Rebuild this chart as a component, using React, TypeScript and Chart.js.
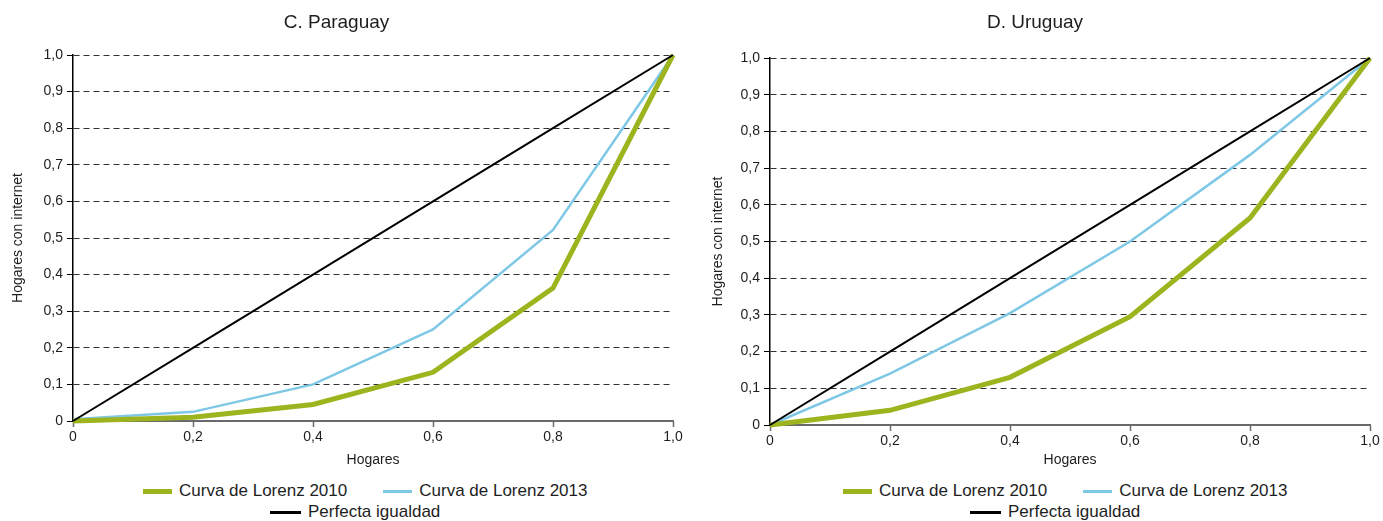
import React, { useEffect, useRef } from 'react';
import { Chart, registerables } from 'chart.js';

Chart.register(...registerables);

// ---- Data ----
const householdShares = [0, 0.2, 0.4, 0.6, 0.8, 1.0];
const xTickLabels = ['0', '0,2', '0,4', '0,6', '0,8', '1,0'];
const yTickLabels = ['0', '0,1', '0,2', '0,3', '0,4', '0,5', '0,6', '0,7', '0,8', '0,9', '1,0'];

const paraguay2010 = [0, 0.01, 0.045, 0.133, 0.363, 1.0];
const paraguay2013 = [0.005, 0.025, 0.1, 0.25, 0.522, 1.0];
const uruguay2010 = [0, 0.04, 0.13, 0.295, 0.564, 1.0];
const uruguay2013 = [0, 0.14, 0.305, 0.5, 0.736, 1.0];
const perfectEquality = [0, 0.2, 0.4, 0.6, 0.8, 1.0];

const seriesNames = ['Curva de Lorenz 2010', 'Curva de Lorenz 2013', 'Perfecta igualdad'];
const panelTitles = ['C. Paraguay', 'D. Uruguay'];
const xAxisTitle = 'Hogares';
const yAxisTitle = 'Hogares con internet';

const GREEN = '#9db41f';
const BLUE = '#7ec8e6';
const BLACK = '#000000';
const FONT = "'Liberation Sans', Arial, Helvetica, sans-serif";
const TEXT = '#1e1e1e';

const CANVAS_W = 690;
const CANVAS_H = 480;

type PanelProps = {
  title: string;
  values2010: number[];
  values2013: number[];
  plotTop: number;
  plotBottom: number;
  yAxisWidth: number;
  padRight: number;
};

const toPoints = (ys: number[]) => householdShares.map((x, i) => ({ x, y: ys[i] }));

function Panel({ title, values2010, values2013, plotTop, plotBottom, yAxisWidth, padRight }: PanelProps) {
  const ref = useRef<HTMLCanvasElement | null>(null);

  useEffect(() => {
    if (!ref.current) return;
    const titleFont = 19;
    const titleLine = titleFont * 1.2;
    const titlePadTop = 11;
    const chart = new Chart(ref.current, {
      type: 'line',
      data: {
        datasets: [
          {
            label: seriesNames[2],
            data: toPoints(perfectEquality),
            borderColor: BLACK,
            borderWidth: 2,
            order: 0,
            clip: false as any,
          },
          {
            label: seriesNames[0],
            data: toPoints(values2010),
            borderColor: GREEN,
            borderWidth: 5,
            order: 1,
            clip: false as any,
          },
          {
            label: seriesNames[1],
            data: toPoints(values2013),
            borderColor: BLUE,
            borderWidth: 2.5,
            order: 2,
            clip: false as any,
          },
        ],
      },
      options: {
        responsive: false,
        animation: false,
        layout: { padding: { left: 0, right: padRight, top: 0, bottom: 0 } },
        elements: {
          point: { radius: 0, hoverRadius: 0 },
          line: { tension: 0, borderCapStyle: 'butt', borderJoinStyle: 'miter', fill: false },
        },
        plugins: {
          legend: { display: false },
          tooltip: { enabled: false },
          title: {
            display: true,
            text: title,
            color: TEXT,
            font: { family: FONT, size: titleFont, weight: 'normal' },
            padding: { top: titlePadTop, bottom: plotTop - titlePadTop - titleLine },
          },
        },
        scales: {
          x: {
            type: 'linear',
            min: 0,
            max: 1,
            ticks: {
              stepSize: 0.2,
              autoSkip: false,
              maxRotation: 0,
              padding: 2,
              color: TEXT,
              font: { family: FONT, size: 14 },
              callback: (v: any) => xTickLabels[Math.round(Number(v) * 5)],
            },
            grid: {
              drawOnChartArea: false,
              drawTicks: true,
              tickLength: 6,
              tickColor: '#6a6a6a',
              tickWidth: 1.5,
            },
            border: { color: '#6a6a6a', width: 2 },
            title: {
              display: true,
              text: xAxisTitle,
              color: TEXT,
              font: { family: FONT, size: 14 },
              padding: { top: 0, bottom: 11 },
            },
            afterFit: (s: any) => {
              s.height = CANVAS_H - plotBottom;
            },
          },
          y: {
            type: 'linear',
            min: 0,
            max: 1,
            ticks: {
              stepSize: 0.1,
              autoSkip: false,
              padding: 4,
              color: TEXT,
              font: { family: FONT, size: 14 },
              callback: (v: any) => yTickLabels[Math.round(Number(v) * 10)],
            },
            grid: {
              color: '#333333',
              lineWidth: 1,
              drawTicks: true,
              tickLength: 6,
              tickColor: BLACK,
              tickWidth: 1,
              tickBorderDash: [],
            },
            border: { color: BLACK, width: 1.5, dash: [6, 4] },
            title: {
              display: true,
              text: yAxisTitle,
              color: TEXT,
              font: { family: FONT, size: 14 },
              padding: { top: 10, bottom: 0 },
            },
            afterFit: (s: any) => {
              s.width = yAxisWidth;
            },
          },
        },
      } as any,
    });
    return () => chart.destroy();
  }, [title, values2010, values2013, plotTop, plotBottom, yAxisWidth, padRight]);

  const swatch = (color: string, w: number, h: number) => (
    <span style={{ display: 'inline-block', width: w, height: h, background: color, marginRight: 7, verticalAlign: 'middle' }} />
  );

  const rowStyle: React.CSSProperties = {
    position: 'absolute',
    whiteSpace: 'nowrap',
    fontFamily: FONT,
    fontSize: 17,
    lineHeight: '20px',
    color: TEXT,
    display: 'flex',
    alignItems: 'center',
  };

  return (
    <div style={{ position: 'relative', width: CANVAS_W, height: 521 }}>
      <canvas ref={ref} width={CANVAS_W} height={CANVAS_H} style={{ display: 'block', width: CANVAS_W, height: CANVAS_H }} />
      <div style={{ ...rowStyle, left: 143, top: 481 }}>
        {swatch(GREEN, 29, 5)}
        <span>{seriesNames[0]}</span>
        <span style={{ display: 'inline-block', width: 36 }} />
        {swatch(BLUE, 29, 3)}
        <span>{seriesNames[1]}</span>
      </div>
      <div style={{ ...rowStyle, left: 270, top: 502 }}>
        {swatch(BLACK, 31, 3)}
        <span>{seriesNames[2]}</span>
      </div>
    </div>
  );
}

export default function App() {
  return (
    <div style={{ position: 'fixed', left: 0, top: 0, width: 1383, height: 521, overflow: 'hidden', background: '#ffffff' }}>
      <div style={{ position: 'absolute', left: 0, top: 0 }}>
        <Panel
          title={panelTitles[0]}
          values2010={paraguay2010}
          values2013={paraguay2013}
          plotTop={55}
          plotBottom={421}
          yAxisWidth={73}
          padRight={17}
        />
      </div>
      <div style={{ position: 'absolute', left: 700, top: 0 }}>
        <Panel
          title={panelTitles[1]}
          values2010={uruguay2010}
          values2013={uruguay2013}
          plotTop={58}
          plotBottom={425}
          yAxisWidth={70}
          padRight={20}
        />
      </div>
    </div>
  );
}
